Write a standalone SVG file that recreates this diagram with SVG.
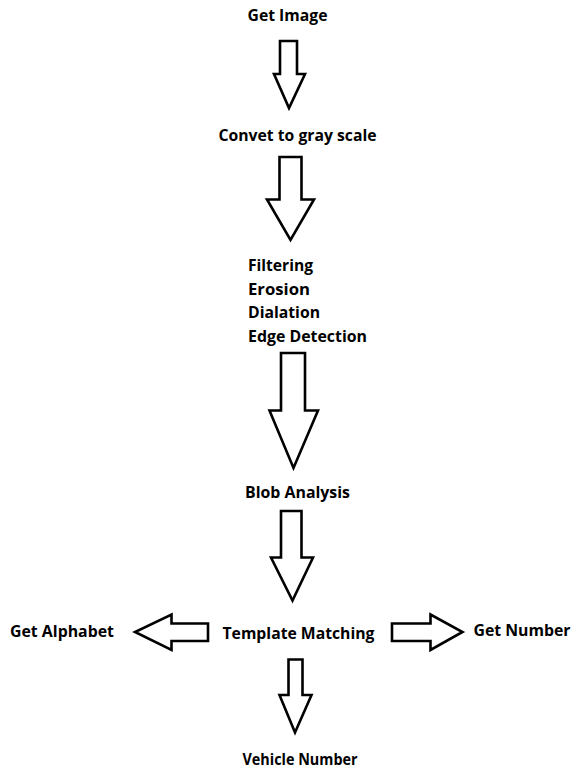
<svg xmlns="http://www.w3.org/2000/svg" width="572" height="771" viewBox="0 0 572 771">
<style>
.t{font-family:"Open Sans","Liberation Sans",sans-serif;font-weight:700;font-size:16px;fill:#000}
.a{fill:#fff;stroke:#000;stroke-width:2.6;stroke-linejoin:miter}
</style>
<rect width="572" height="771" fill="#fff"/>
<g id="n-get-image"><text class="t" x="247.5" y="21" textLength="80" lengthAdjust="spacingAndGlyphs">Get Image</text></g>
<g id="n-gray"><text class="t" x="218.5" y="140.5" textLength="158" lengthAdjust="spacingAndGlyphs">Convet to gray scale</text></g>
<g id="n-filter">
<text class="t" x="248" y="271" textLength="65" lengthAdjust="spacingAndGlyphs">Filtering</text>
<text class="t" x="248" y="294.5" textLength="62" lengthAdjust="spacingAndGlyphs">Erosion</text>
<text class="t" x="248" y="318" textLength="72" lengthAdjust="spacingAndGlyphs">Dialation</text>
<text class="t" x="248" y="341.5" textLength="119" lengthAdjust="spacingAndGlyphs">Edge Detection</text>
</g>
<g id="n-blob"><text class="t" x="245" y="498" textLength="105" lengthAdjust="spacingAndGlyphs">Blob Analysis</text></g>
<g id="n-template"><text class="t" x="222.5" y="639" textLength="152" lengthAdjust="spacingAndGlyphs">Template Matching</text></g>
<g id="n-alphabet"><text class="t" x="10" y="637" textLength="104" lengthAdjust="spacingAndGlyphs">Get Alphabet</text></g>
<g id="n-number"><text class="t" x="473.5" y="636" textLength="97" lengthAdjust="spacingAndGlyphs">Get Number</text></g>
<g id="n-vehicle"><text class="t" x="242.5" y="765" textLength="115" lengthAdjust="spacingAndGlyphs">Vehicle Number</text></g>
<g id="connectors">
<polygon class="a" points="280,41 297,41 297,74 305,74 289,108 274,74 280,74"/>
<polygon class="a" points="279.5,157 301.5,157 301.5,199.5 314,199.5 290.5,240 267,199.5 279.5,199.5"/>
<polygon class="a" points="281,353 305,353 305,410.5 318,410.5 293.5,468 269.5,410.5 281,410.5"/>
<polygon class="a" points="281,511 301.5,511 301.5,557.5 313,557.5 292.5,600.5 271,557.5 281,557.5"/>
<polygon class="a" points="208,623.5 208,641 171.5,641 171.5,650 135,632 171.5,614.5 171.5,623.5"/>
<polygon class="a" points="392,623.5 430.5,623.5 430.5,614.5 462.5,632 430.5,650 430.5,641 392,641"/>
<polygon class="a" points="288.5,659.5 302.5,659.5 302.5,695 311.5,695 295,732.5 279.5,695 288.5,695"/>
</g>
</svg>
